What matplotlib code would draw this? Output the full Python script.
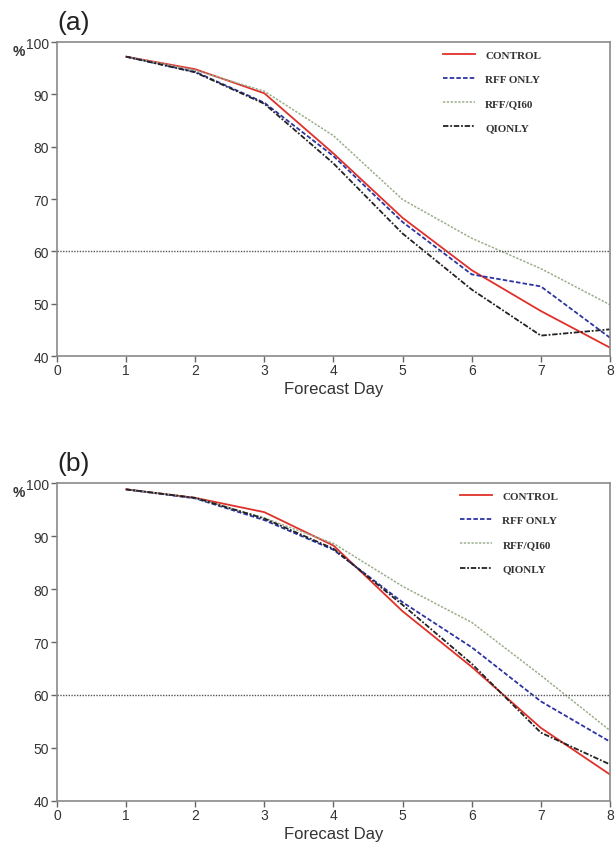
import matplotlib
matplotlib.use("Agg")
import matplotlib.pyplot as plt

# data
days = [1, 2, 3, 4, 5, 6, 7, 8]
labels = ["CONTROL", "RFF ONLY", "RFF/QI60", "QIONLY"]

a_control = [97.2, 94.8, 90.2, 78.7, 66.4, 56.4, 48.6, 41.6]
a_rff = [97.2, 94.3, 88.4, 78.2, 65.6, 55.6, 53.3, 43.5]
a_rffqi = [97.2, 94.6, 90.6, 82.1, 69.9, 62.5, 56.7, 49.8]
a_qi = [97.2, 94.2, 88.2, 76.8, 63.4, 52.7, 43.9, 45.1]

b_control = [98.8, 97.2, 94.5, 88.2, 75.8, 65.3, 53.8, 45.0]
b_rff = [98.8, 97.1, 93.0, 87.4, 77.5, 69.0, 58.8, 51.2]
b_rffqi = [98.8, 97.2, 93.4, 88.6, 80.5, 73.7, 63.7, 53.3]
b_qi = [98.8, 97.2, 93.3, 87.6, 77.0, 65.9, 52.9, 46.9]

threshold = 60

styles = [
    dict(color="#e0302a", linestyle="-", linewidth=1.3),
    dict(color="#2b34a0", linestyle=(0, (2.5, 1.2)), linewidth=1.3),
    dict(color="#9aae8c", linestyle=(0, (1.5, 1.0)), linewidth=1.1),
    dict(color="#222222", linestyle=(0, (3, 1, 1, 1)), linewidth=1.3),
]

SANS = "Liberation Sans"


def draw_panel(ax, series, tag, leg_x):
    for vals, lab, st in zip(series, labels, styles):
        ax.plot(days, vals, label=lab, **st)
    ax.axhline(threshold, color="#555555", linestyle=(0, (1, 1)), linewidth=1.0)
    ax.set_xlim(0, 8)
    ax.set_ylim(40, 100)
    ax.set_xticks(range(0, 9))
    ax.set_yticks(range(40, 101, 10))
    for s in ax.spines.values():
        s.set_color("#8a8a8a")
        s.set_linewidth(1.2)
    ax.tick_params(axis="both", direction="out", length=4, width=1, color="#666666",
                   labelsize=10, labelcolor="#333333")
    ax.tick_params(axis="y", pad=2)
    ax.tick_params(axis="x", pad=1)
    for t in ax.get_xticklabels() + ax.get_yticklabels():
        t.set_family(SANS)
    ax.set_xlabel("Forecast Day", fontsize=12, color="#333333", labelpad=3, family=SANS)
    ax.text(-0.069, 0.971, "%", transform=ax.transAxes, fontsize=10, family=SANS,
            color="#333333", fontweight="bold", ha="center", va="center")
    ax.text(0.0, 1.025, tag, transform=ax.transAxes, fontsize=19, family=SANS,
            color="#222222", ha="left", va="bottom")
    leg = ax.legend(loc="upper left", bbox_to_anchor=(leg_x, 0.975), frameon=False,
                    prop={"family": "Liberation Serif", "weight": "bold", "size": 8},
                    handlelength=2.9, labelspacing=1.3, handletextpad=0.9,
                    borderpad=0, borderaxespad=0)
    for t in leg.get_texts():
        t.set_color("#333333")


fig = plt.figure(figsize=(6.16, 8.45), dpi=100)
ax1 = fig.add_axes([0.0925, 0.5775, 0.8977, 0.3716])
ax2 = fig.add_axes([0.0925, 0.0509, 0.8977, 0.3763])

draw_panel(ax1, [a_control, a_rff, a_rffqi, a_qi], "(a)", 0.698)
draw_panel(ax2, [b_control, b_rff, b_rffqi, b_qi], "(b)", 0.729)

fig.savefig("out.png", dpi=100)
